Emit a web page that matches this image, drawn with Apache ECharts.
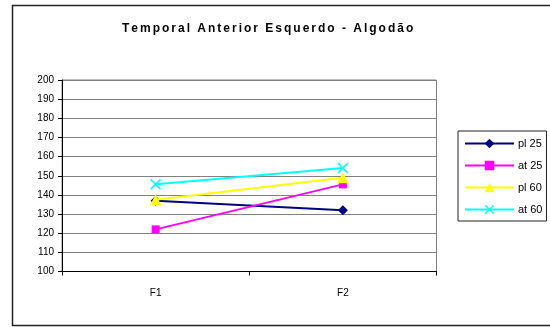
<!DOCTYPE html>
<html>
<head>
<meta charset="utf-8">
<script src="https://cdn.jsdelivr.net/npm/echarts@6/dist/echarts.min.js"></script>
<style>
  html, body { margin: 0; padding: 0; background: #fff; }
  #chart { width: 550px; height: 327px; }
</style>
</head>
<body>
<div id="chart"></div>
<script>
// Chart data
const titleText = 'Temporal Anterior Esquerdo - Algodão';
const categories = ['F1', 'F2'];
const seriesNames = ['pl 25', 'at 25', 'pl 60', 'at 60'];
const pl25 = [137, 132];
const at25 = [122, 145.5];
const pl60 = [137.5, 149];
const at60 = [145.5, 154];
const yTicks = { min: 100, max: 200, interval: 10 };

const seriesValues = [pl25, at25, pl60, at60];
const colors = ['#000080', '#FF00FF', '#FFFF00', '#00FFFF'];
const crossPath = 'path://M0,1 L1,0 L5,4 L9,0 L10,1 L6,5 L10,9 L9,10 L5,6 L1,10 L0,9 L4,5 Z';
const symbols = ['diamond', 'rect', 'triangle', crossPath];
const symbolSizes = [10, 8, 11, 11];

const FONT = '"Liberation Sans", Arial, sans-serif';
// Wide-tracked title: six-per-em spaces between the letters
const spacedTitle = Array.from(titleText).join('\u2006');

const chart = echarts.init(document.getElementById('chart'), null, { renderer: 'canvas' });

chart.setOption({
  backgroundColor: '#ffffff',
  animation: false,
  title: {
    text: spacedTitle,
    left: 117,
    top: 18,
    padding: 5,
    textStyle: { fontFamily: FONT, fontSize: 12, fontWeight: 'bold', color: '#000' }
  },
  graphic: [{
    type: 'rect',
    shape: { x: 12.5, y: 5.5, width: 545, height: 320 },
    style: { fill: 'none', stroke: '#222', lineWidth: 1.5 },
    silent: true,
    z: -1
  }],
  legend: {
    orient: 'vertical',
    left: 458,
    top: 131,
    padding: [7, 4, 6, 6],
    itemGap: 11,
    itemWidth: 49,
    itemHeight: 12,
    borderColor: '#222',
    borderWidth: 1,
    textStyle: { fontFamily: FONT, fontSize: 11, color: '#000', padding: [0, 0, 0, -1] },
    data: seriesNames
  },
  grid: {
    left: 62,
    right: 113.5,
    top: 80,
    bottom: 55.5,
    show: true,
    borderColor: '#808080',
    borderWidth: 1,
    backgroundColor: '#ffffff'
  },
  xAxis: {
    type: 'category',
    data: categories,
    boundaryGap: true,
    axisLine: { lineStyle: { color: '#000', width: 1 } },
    axisTick: { show: true, length: 4, lineStyle: { color: '#000' } },
    axisLabel: { fontFamily: FONT, fontSize: 10, color: '#000', margin: 17 },
    splitLine: { show: false }
  },
  yAxis: {
    type: 'value',
    min: yTicks.min,
    max: yTicks.max,
    interval: yTicks.interval,
    axisLine: { show: true, lineStyle: { color: '#000', width: 1 } },
    axisTick: { show: true, length: 4, lineStyle: { color: '#000' } },
    axisLabel: { fontFamily: FONT, fontSize: 10, color: '#000', margin: 8 },
    splitLine: { show: true, lineStyle: { color: '#808080', width: 1 } }
  },
  series: seriesNames.map((name, i) => ({
    name: name,
    type: 'line',
    data: seriesValues[i],
    symbol: symbols[i],
    symbolSize: symbolSizes[i],
    showAllSymbol: true,
    lineStyle: { color: colors[i], width: 2 },
    itemStyle: { color: colors[i] },
    z: 2 + i
  }))
});
</script>
</body>
</html>
